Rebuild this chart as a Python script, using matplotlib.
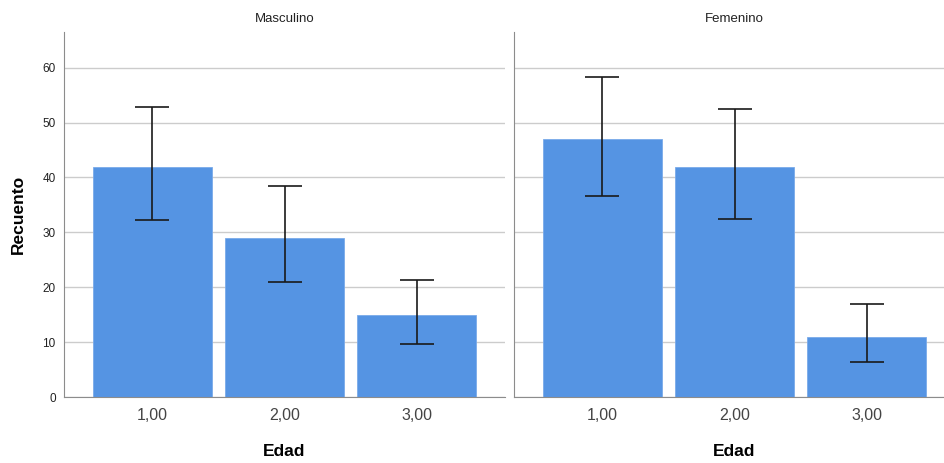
import matplotlib.pyplot as plt
import numpy as np

# Datos
edad = ["1,00", "2,00", "3,00"]
paneles = ["Masculino", "Femenino"]
recuento_masc = [42, 29, 15]
recuento_fem = [47, 42, 11]
ic_inf_masc = [32.2, 20.9, 9.6]
ic_sup_masc = [52.9, 38.4, 21.3]
ic_inf_fem = [36.7, 32.5, 6.4]
ic_sup_fem = [58.3, 52.4, 17.0]

bar_color = "#5594e3"
grid_color = "#cccccc"
spine_color = "#8c8c8c"

plt.rcParams['font.family'] = ['Liberation Sans', 'DejaVu Sans']
fig = plt.figure(figsize=(9.44, 4.63), dpi=100)

posiciones = [0.0678, 0.5445]
datos = [
    (recuento_masc, ic_inf_masc, ic_sup_masc),
    (recuento_fem, ic_inf_fem, ic_sup_fem),
]

for i, (titulo, (vals, lo, hi)) in enumerate(zip(paneles, datos)):
    ax = fig.add_axes([posiciones[i], 0.1425, 0.4672, 0.7883])
    x = np.arange(len(edad))
    vals = np.array(vals)
    yerr = np.array([vals - np.array(lo), np.array(hi) - vals])
    ax.bar(x, vals, width=0.9, color=bar_color, edgecolor="#7aaaea",
           linewidth=0.6, zorder=2)
    ax.errorbar(x, vals, yerr=yerr, fmt="none", ecolor="#1a1a1a",
                elinewidth=1.2, capsize=12, capthick=1.2, zorder=3)

    ax.set_xlim(-0.67, 2.67)
    ax.set_ylim(0, 66.5)
    ax.set_yticks([0, 10, 20, 30, 40, 50, 60])
    ax.set_xticks(x)
    ax.set_xticklabels(edad, fontsize=11.5, color="#444444")
    ax.yaxis.grid(True, color=grid_color, linewidth=1.0, zorder=0)
    ax.set_axisbelow(True)
    ax.tick_params(axis="both", length=0)
    ax.tick_params(axis="x", pad=8)
    ax.tick_params(axis="y", labelsize=8.5, colors="#222222", pad=6)

    for s in ["top", "right"]:
        ax.spines[s].set_visible(False)
    ax.spines["left"].set_color(spine_color)
    ax.spines["bottom"].set_color(spine_color)

    if i == 1:
        ax.set_yticklabels([])
    else:
        ax.set_ylabel("Recuento", fontsize=12.5, fontweight="bold", labelpad=12)

    ax.set_xlabel("Edad", fontsize=12.5, fontweight="bold", labelpad=15)
    ax.text(0.5, 1.035, titulo, transform=ax.transAxes, ha="center",
            va="center", fontsize=9.5, color="#222222")

fig.savefig("out.png", dpi=100)
